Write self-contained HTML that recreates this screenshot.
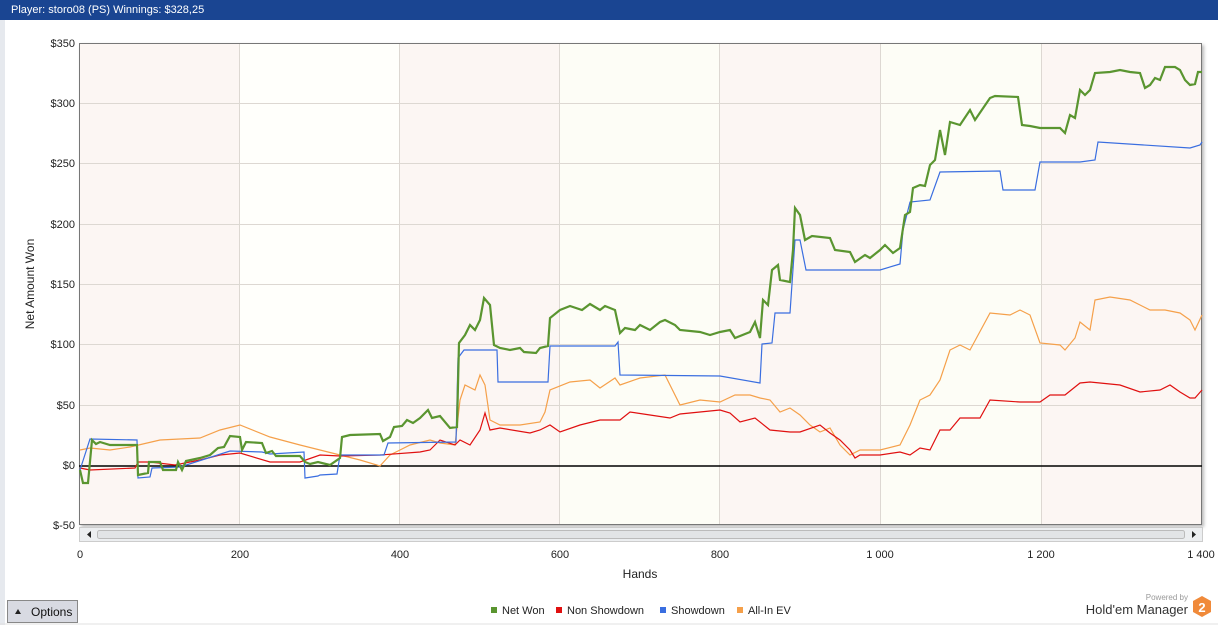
<!DOCTYPE html>
<html><head><meta charset="utf-8"><style>
body{margin:0;width:1218px;height:625px;background:#fff;font-family:"Liberation Sans",sans-serif;overflow:hidden;position:relative}
.top{position:absolute;left:0;top:0;width:1218px;height:20px;background:#1a4592;color:#fff;font-size:11px;line-height:20px;padding-left:11px;box-sizing:border-box}
</style></head><body>
<div class="top">Player: storo08 (PS) Winnings: $328,25</div>
<div style="position:absolute;left:0;top:20px;width:5px;height:605px;background:#e6e9ee"></div>
<svg width="1218" height="625" style="position:absolute;left:0;top:0" font-family="Liberation Sans, sans-serif">
<defs><filter id="sh"><feDropShadow dx="2" dy="2" stdDeviation="1.5" flood-color="#888" flood-opacity="0.6"/></filter></defs>
<rect x="79" y="43" width="1123" height="482" fill="#fff" filter="url(#sh)"/>
<rect x="79" y="43" width="160" height="482" fill="#fcf6f3"/>
<rect x="239" y="43" width="160" height="482" fill="#fffffb"/>
<rect x="399" y="43" width="160" height="482" fill="#fcf6f3"/>
<rect x="559" y="43" width="160" height="482" fill="#fdfdf6"/>
<rect x="719" y="43" width="161" height="482" fill="#fcf6f3"/>
<rect x="880" y="43" width="161" height="482" fill="#fdfdf6"/>
<rect x="1041" y="43" width="161" height="482" fill="#fcf6f3"/>
<g stroke="#ddd8d2" stroke-width="1">
<line x1="79" x2="1202" y1="103.5" y2="103.5"/><line x1="79" x2="1202" y1="163.5" y2="163.5"/><line x1="79" x2="1202" y1="224.5" y2="224.5"/><line x1="79" x2="1202" y1="284.5" y2="284.5"/><line x1="79" x2="1202" y1="344.5" y2="344.5"/><line x1="79" x2="1202" y1="405.5" y2="405.5"/>
<line x1="239.5" x2="239.5" y1="43" y2="525"/><line x1="399.5" x2="399.5" y1="43" y2="525"/><line x1="559.5" x2="559.5" y1="43" y2="525"/><line x1="719.5" x2="719.5" y1="43" y2="525"/><line x1="880.5" x2="880.5" y1="43" y2="525"/><line x1="1041.5" x2="1041.5" y1="43" y2="525"/>
</g>
<rect x="79.5" y="43.5" width="1122" height="481" fill="none" stroke="#777"/>
<line x1="79" x2="1202" y1="466" y2="466" stroke="#000" stroke-width="1.5"/>
<polyline fill="none" stroke="#f5a04a" stroke-width="1.2" points="80,450 90,448 110,450 130,447 160,440 200,438 220,430 240,425 270,437 300,445 320,450 340,455 360,460 380,466 390,455 400,450 410,445 430,440 440,443 455,445 460,400 465,385 475,390 480,375 485,385 490,420 500,425 520,425 540,422 545,412 550,390 570,382 590,380 600,388 615,378 620,385 640,378 665,375 680,405 700,400 720,402 735,395 750,395 760,398 770,400 780,412 790,408 800,415 810,425 820,432 830,428 840,445 850,455 860,450 880,450 900,445 910,425 920,400 930,395 940,380 950,350 960,345 970,350 990,313 1010,315 1020,310 1030,315 1040,343 1060,345 1065,350 1075,338 1080,322 1090,330 1095,300 1110,297 1130,300 1140,305 1150,310 1165,310 1180,313 1190,320 1195,330 1202,315"/>
<polyline fill="none" stroke="#e01010" stroke-width="1.2" points="80,468 90,470 135,468 138,462 150,462 175,465 200,460 220,455 240,453 270,462 300,462 320,455 340,456 380,455 420,452 430,450 440,440 455,445 460,440 470,445 480,430 485,413 490,430 500,428 530,433 540,430 550,425 560,432 580,425 600,420 620,420 630,412 650,415 670,418 680,414 700,412 720,410 730,413 740,422 755,418 770,430 790,432 800,432 820,425 830,433 840,440 850,450 855,458 860,455 880,455 900,452 910,455 920,448 930,450 940,430 950,430 960,418 980,418 990,400 1020,402 1040,402 1050,395 1065,395 1080,383 1090,382 1100,383 1120,385 1140,392 1160,390 1170,385 1180,392 1190,398 1195,398 1202,390"/>
<polyline fill="none" stroke="#3a6ee0" stroke-width="1.2" points="80,470 90,439 137,440 138,478 150,477 152,468 180,467 230,451 262,452 270,454 304,452 305,478 318,476 320,475 337,474 340,455 384,455 388,443 456,442 458,358 464,350 497,350 498,382 548,382 550,346 615,346 618,342 620,375 720,376 760,383 762,344 772,343 775,313 790,313 795,240 800,240 806,270 880,270 900,264 903,230 910,202 930,200 940,172 1000,171 1003,190 1035,190 1040,162 1080,162 1095,160 1098,142 1190,148 1200,145 1202,142"/>
<polyline fill="none" stroke="#5a9530" stroke-width="2.2" points="80,470 83,483 88,483 92,440 96,444 100,442 110,445 137,445 138,475 148,473 149,462 160,462 163,470 176,470 178,462 182,470 186,461 200,458 210,455 218,448 224,447 230,436 240,437 242,450 246,442 262,443 266,453 272,451 276,456 300,456 305,462 310,464 318,462 330,465 340,458 342,437 350,435 380,434 383,441 390,437 394,427 402,426 407,420 413,423 420,418 428,410 432,418 440,416 450,428 457,427 459,343 465,335 470,325 475,330 480,320 484,298 490,305 494,345 500,348 510,350 520,348 524,352 536,353 540,348 548,346 550,318 560,310 570,306 582,310 590,304 600,310 605,306 615,310 620,333 625,328 635,330 640,325 650,330 660,322 665,320 675,325 680,330 700,332 710,335 720,332 730,330 735,338 750,332 755,322 760,338 763,300 768,305 772,270 778,265 780,280 790,282 793,250 795,208 800,215 805,240 812,236 830,238 835,250 850,252 855,262 865,255 870,258 880,250 885,245 893,253 900,248 905,215 910,212 913,188 920,185 925,186 930,165 935,160 940,130 945,155 950,122 960,125 970,110 975,120 990,98 995,96 1018,97 1022,125 1030,126 1040,128 1060,128 1065,133 1070,115 1075,118 1080,90 1085,95 1090,90 1095,73 1110,72 1120,70 1130,72 1140,73 1145,88 1150,85 1155,78 1160,80 1165,67 1175,67 1180,70 1185,80 1190,85 1195,84 1198,72 1202,72"/>
<rect x="79.5" y="527.5" width="1123" height="14" fill="#eceef0" stroke="#ccc"/>
<rect x="97.5" y="530.5" width="1087" height="8" fill="#e2e4e6" stroke="#bbb" rx="2"/>
<polygon points="91,531 91,538 87,534.5" fill="#222"/>
<polygon points="1192,531 1192,538 1196,534.5" fill="#222"/>
<g font-size="11" fill="#222" text-anchor="end">
<text x="75" y="47">$350</text><text x="75" y="107">$300</text><text x="75" y="167">$250</text><text x="75" y="228">$200</text><text x="75" y="288">$150</text><text x="75" y="348">$100</text><text x="75" y="409">$50</text><text x="75" y="469">$0</text><text x="75" y="529">$-50</text>
</g>
<g font-size="11" fill="#222" text-anchor="middle">
<text x="80" y="558">0</text><text x="240" y="558">200</text><text x="400" y="558">400</text><text x="560" y="558">600</text><text x="720" y="558">800</text><text x="880" y="558">1 000</text><text x="1041" y="558">1 200</text><text x="1201" y="558">1 400</text>
<text x="640" y="578" font-size="12">Hands</text>
</g>
<text transform="translate(34,284) rotate(-90)" font-size="12" fill="#222" text-anchor="middle">Net Amount Won</text>
<g font-size="11" fill="#222">
<rect x="491" y="607" width="6" height="6" fill="#5a9530"/><text x="502" y="614">Net Won</text>
<rect x="556" y="607" width="6" height="6" fill="#e01010"/><text x="567" y="614">Non Showdown</text>
<rect x="660" y="607" width="6" height="6" fill="#3a6ee0"/><text x="671" y="614">Showdown</text>
<rect x="737" y="607" width="6" height="6" fill="#f5a04a"/><text x="748" y="614">All-In EV</text>
</g>
<text x="1188" y="600" font-size="8" fill="#999" text-anchor="end">Powered by</text>
<text x="1188" y="614" font-size="13" fill="#333" text-anchor="end">Hold'em Manager</text>
<polygon points="1202,596 1211,601 1211,612 1202,617 1193,612 1193,601" fill="#f08a3a"/>
<text x="1202" y="612" font-size="13" font-weight="bold" fill="#fff" text-anchor="middle">2</text>
<rect x="7.5" y="600.5" width="70" height="22" fill="#d8dae2" stroke="#888"/>
<polygon points="15,614 21,614 18,609" fill="#222"/>
<text x="31" y="616" font-size="12" fill="#111">Options</text>
<line x1="0" x2="1218" y1="624" y2="624" stroke="#e0e0e0"/>
</svg>
</body></html>
